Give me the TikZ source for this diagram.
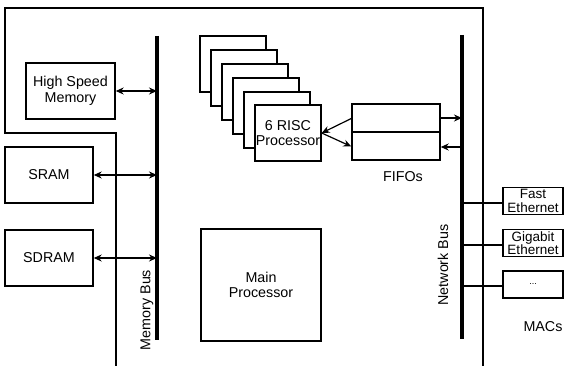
\documentclass[tikz,border=0pt]{standalone}
\usepackage{fontspec}
\setmainfont{Liberation Sans}
\usetikzlibrary{arrows.meta}
\begin{document}
\begin{tikzpicture}[x=1pt,y=-1pt,
  box/.style={draw,line width=1.4pt,fill=white,inner sep=0pt,align=center,
    font=\fontsize{14.3}{15.5}\selectfont},
  macbox/.style={box,minimum width=60pt,minimum height=27pt,font=\fontsize{13.5}{13.5}\selectfont},
  bus/.style={line width=3.2pt},
  lbl/.style={font=\fontsize{14.3}{15.5}\selectfont,inner sep=0pt},
  arr/.style={line width=1.2pt,-{Stealth[length=8pt,width=7pt]}},
  darr/.style={line width=1.2pt,{Stealth[length=8pt,width=7pt]}-{Stealth[length=8pt,width=7pt]}},
  wire/.style={line width=1.2pt}]
\useasboundingbox (0,0) rectangle (572,366);
% chip outline
\draw[line width=1.4pt] (116,366) -- (116,133) -- (5,133) -- (5,8) -- (483,8) -- (483,366);
% buses
\coordinate (mbtop) at (157,36);
\coordinate (mbbot) at (157,340);
\coordinate (nbtop) at (462,35);
\coordinate (nbbot) at (462,339);
\draw[bus] (mbtop) -- (mbbot);
\draw[bus] (nbtop) -- (nbbot);
\node[lbl,rotate=90] (mblbl) at (147,310) {Memory Bus};
\node[lbl,rotate=90] (nblbl) at (443,265) {Network Bus};
% memories
\node[box,minimum width=89pt,minimum height=56pt] (hsm) at (70.5,91) {High Speed\\Memory};
\node[box,minimum width=88pt,minimum height=56pt] (sram) at (49,175) {SRAM};
\node[box,minimum width=88pt,minimum height=56pt] (sdram) at (49,258) {SDRAM};
\draw[darr] (hsm.east) -- (hsm.east -| mbtop);
\draw[darr] (sram.east) -- (sram.east -| mbtop);
\draw[darr] (sdram.east) -- (sdram.east -| mbtop);
% RISC stack
\node[box,minimum width=66pt,minimum height=56pt] (r1) at (233,64) {};
\node[box,minimum width=66pt,minimum height=56pt] (r2) at (244,78) {};
\node[box,minimum width=66pt,minimum height=56pt] (r3) at (255,92) {};
\node[box,minimum width=66pt,minimum height=56pt] (r4) at (266,106) {};
\node[box,minimum width=66pt,minimum height=56pt] (r5) at (277,120) {};
\node[box,minimum width=66pt,minimum height=56pt] (r6) at (288,133) {6 RISC\\Processor};
% FIFOs
\node[box,minimum width=88pt,minimum height=56pt] (fifo) at (396,132) {};
\draw[line width=1.4pt] (fifo.west) -- (fifo.east);
\coordinate (fifoAw) at ([yshift=13.5pt]fifo.west);
\coordinate (fifoBw) at ([yshift=-14.5pt]fifo.west);
\coordinate (fifoAe) at ([yshift=14pt]fifo.east);
\coordinate (fifoBe) at ([yshift=-15pt]fifo.east);
\node[lbl] (fifolbl) at (403,177) {FIFOs};
\draw[arr] (fifoAw) -- (r6.east);
\draw[arr] (r6.east) -- (fifoBw);
\draw[arr] (fifoAe) -- (fifoAe -| nbtop);
\draw[arr] (fifoBe -| nbtop) -- (fifoBe);
% main processor
\node[box,minimum width=120pt,minimum height=112pt] (mainp) at (261,285) {Main\\Processor};
% MACs
\node[macbox] (fe) at (533,201) {Fast\\Ethernet};
\node[macbox] (ge) at (533,243) {Gigabit\\Ethernet};
\node[macbox] (dots) at (533,284.5) {\fontsize{9}{10}\selectfont ...};
\node[lbl] (macs) at (543,327) {MACs};
\draw[wire] ([yshift=-2pt]fe.west -| nbtop) -- ([yshift=-2pt]fe.west);
\draw[wire] ([yshift=-2pt]ge.west -| nbtop) -- ([yshift=-2pt]ge.west);
\draw[wire] ([yshift=-1.5pt]dots.west -| nbtop) -- ([yshift=-1.5pt]dots.west);
\end{tikzpicture}
\end{document}
